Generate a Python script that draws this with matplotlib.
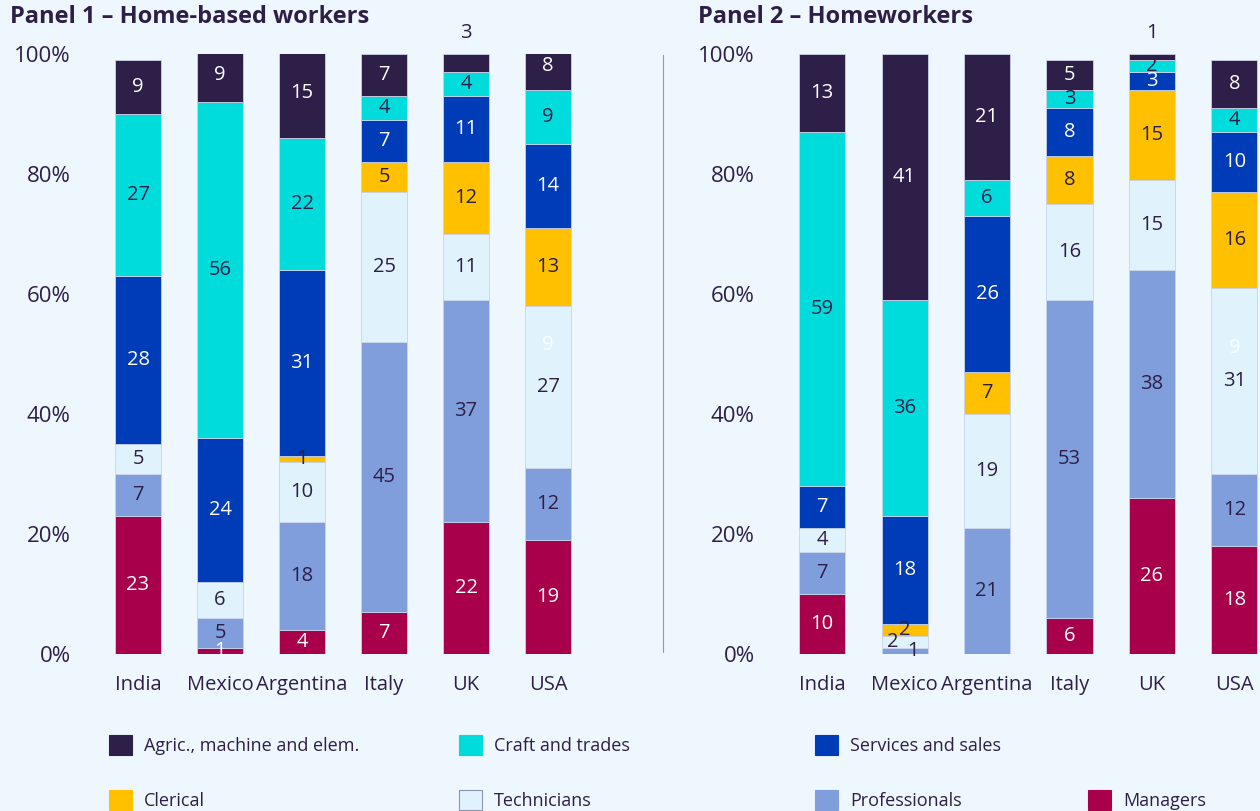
import matplotlib
matplotlib.use("Agg")
import matplotlib.pyplot as plt
from matplotlib.patches import Patch
from matplotlib.lines import Line2D

plt.rcParams['font.family'] = ['Open Sans', 'Noto Sans', 'DejaVu Sans']

countries = ["India", "Mexico", "Argentina", "Italy", "UK", "USA"]
groups = ["Managers", "Professionals", "Technicians", "Clerical",
          "Services and sales", "Craft and trades", "Agric., machine and elem."]
colors = ["#a8004a", "#7f9edb", "#e0f2fc", "#ffc000", "#003bb8", "#00dcdc", "#2d1f48"]
text_colors = ["white", "#2d1f48", "#2d1f48", "#2d1f48", "white", "#2d1f48", "white"]

# shares per group, one value per country (bottom to top order of groups)
home_based = {
    "Managers":                  [23, 1, 4, 7, 22, 19],
    "Professionals":             [7, 5, 18, 45, 37, 12],
    "Technicians":               [5, 6, 10, 25, 11, 27],
    "Clerical":                  [0, 0, 1, 5, 12, 13],
    "Services and sales":        [28, 24, 31, 7, 11, 14],
    "Craft and trades":          [27, 56, 22, 4, 4, 9],
    "Agric., machine and elem.": [9, 9, 15, 7, 3, 8],
}
homeworkers = {
    "Managers":                  [10, 0, 0, 6, 26, 18],
    "Professionals":             [7, 1, 21, 53, 38, 12],
    "Technicians":               [4, 2, 19, 16, 15, 31],
    "Clerical":                  [0, 2, 7, 8, 15, 16],
    "Services and sales":        [7, 18, 26, 8, 3, 10],
    "Craft and trades":          [59, 36, 6, 3, 2, 4],
    "Agric., machine and elem.": [13, 41, 21, 5, 1, 8],
}
# faint extra label that shows inside the USA technicians block
usa_ghost = "9"

# labels that sit above the bar or get nudged sideways: (group, country) -> (dx, y)
p1_moves = {("Agric., machine and elem.", "UK"): (0, 103.5)}
p2_moves = {("Agric., machine and elem.", "UK"): (0, 103.5),
            ("Professionals", "Mexico"): (0.1, None),
            ("Technicians", "Mexico"): (-0.15, None)}

bg = "#eef7fd"
dark = "#2d1f48"
fs = 14.5

fig = plt.figure(figsize=(12.6, 8.11), dpi=100, facecolor=bg)
W, H = 1260, 811


def panel(left, width, right_lim, data, moves, title, title_x, ghost_y):
    ax = fig.add_axes([left / W, 1 - 654 / H, width / W, 600 / H])
    ax.set_facecolor(bg)
    x = range(len(countries))
    bottom = [0] * len(countries)
    for g, c, tc in zip(groups, colors, text_colors):
        vals = data[g]
        ax.bar(x, vals, bottom=bottom, width=0.56, color=c,
               edgecolor="#c9d3ea", linewidth=0.6, zorder=2)
        for i, v in enumerate(vals):
            if v > 0:
                dx, y = moves.get((g, countries[i]), (0, None))
                col = tc
                if y is None:
                    y = bottom[i] + v / 2
                else:
                    col = dark
                ax.text(i + dx, y, str(v), ha="center", va="center",
                        fontsize=fs, color=col, zorder=3, clip_on=False)
        bottom = [b + v for b, v in zip(bottom, vals)]
    ax.text(5, ghost_y, usa_ghost, ha="center", va="center",
            fontsize=fs, color="white", alpha=0.85, zorder=3)
    ax.set_xlim(-0.5, right_lim)
    ax.set_ylim(0, 100)
    ax.set_xticks(list(x))
    ax.set_xticklabels(countries, fontsize=fs, color=dark)
    ax.set_yticks([0, 20, 40, 60, 80, 100])
    ax.set_yticklabels(["0%", "20%", "40%", "60%", "80%", "100%"], fontsize=16, color=dark)
    ax.tick_params(axis="y", length=0, pad=19)
    ax.tick_params(axis="x", length=0, pad=15)
    for s in ax.spines.values():
        s.set_visible(False)
    fig.text(title_x / W, 1 - 17 / H, title, fontsize=17, fontweight="bold",
             color=dark, ha="left", va="center")
    return ax


panel(97, 492, 5.5, home_based, p1_moves, "Panel 1 \u2013 Home-based workers", 10, 51.5)
panel(781, 478, 5.3, homeworkers, p2_moves, "Panel 2 \u2013 Homeworkers", 698, 51.0)

fig.add_artist(Line2D([663 / W, 663 / W], [1 - 55 / H, 1 - 652 / H],
                      color="#9a9a9a", linewidth=0.8))

# legend, laid out in two rows
legend_pos = {
    "Agric., machine and elem.": (109, 745),
    "Craft and trades": (459, 745),
    "Services and sales": (815, 745),
    "Clerical": (109, 800),
    "Technicians": (459, 800),
    "Professionals": (815, 800),
    "Managers": (1088, 800),
}
for g, c in zip(groups, colors):
    px, py = legend_pos[g]
    h = Patch(facecolor=c, edgecolor="#8a93b0" if g == "Technicians" else c, linewidth=0.8)
    fig.legend([h], [g], loc="center left", bbox_to_anchor=(px / W, 1 - py / H),
               frameon=False, fontsize=13, labelcolor=dark, handlelength=1.3,
               handleheight=1.3, handletextpad=0.65, borderaxespad=0, borderpad=0)

fig.savefig("out.png", dpi=100, facecolor=bg)
